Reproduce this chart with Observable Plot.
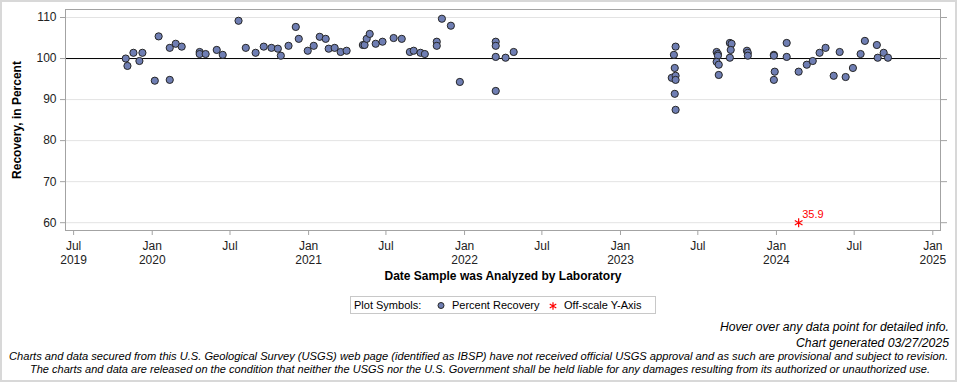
<!DOCTYPE html>
<html>
<head>
<meta charset="utf-8">
<script src="https://cdn.jsdelivr.net/npm/d3@7"></script>
<script src="https://cdn.jsdelivr.net/npm/@observablehq/plot@0.6"></script>
<style>
html, body { margin: 0; padding: 0; background: #fff; }
body { width: 960px; height: 384px; position: relative; overflow: hidden; font-family: Arial, "Liberation Sans", sans-serif; }
#border { position: absolute; left: 0; top: 0; width: 957px; height: 382px; box-sizing: border-box; border: 2px solid #d8d8d8; pointer-events: none; }
#chart { position: absolute; left: 0; top: 0; }
#legend { position: absolute; left: 350px; top: 296px; }
#footer { position: absolute; left: 0; top: 310px; }
</style>
</head>
<body>
<div id="chart"></div>
<div id="legend"></div>
<div id="footer"></div>
<div id="border"></div>
<script>
// ---- Data ----
const dates = [
  "2019-10-31","2019-11-04","2019-11-18","2019-12-02","2019-12-09",
  "2020-01-07","2020-01-16","2020-02-11","2020-02-11","2020-02-25",
  "2020-03-10","2020-04-21","2020-04-21","2020-05-05","2020-05-31",
  "2020-06-14","2020-07-21","2020-08-07","2020-08-30","2020-09-18",
  "2020-10-06","2020-10-21","2020-10-28","2020-11-15","2020-12-02",
  "2020-12-09","2020-12-30","2021-01-13","2021-01-27","2021-02-10",
  "2021-02-17","2021-03-03","2021-03-17","2021-03-31","2021-05-08",
  "2021-05-12","2021-05-17","2021-05-24","2021-06-07","2021-06-23",
  "2021-07-19","2021-08-07","2021-08-26","2021-09-04","2021-09-20",
  "2021-09-30","2021-10-28","2021-10-28","2021-11-09","2021-11-30",
  "2021-12-21","2022-03-15","2022-03-15","2022-03-15","2022-03-15",
  "2022-04-07","2022-04-26","2023-05-10","2023-05-06","2023-05-08",
  "2023-05-01","2023-05-10","2023-05-10","2023-05-08","2023-05-10",
  "2023-08-14","2023-08-17","2023-08-17","2023-08-14","2023-08-19",
  "2023-08-19","2023-09-14","2023-09-18","2023-09-16","2023-09-14",
  "2023-10-24","2023-10-26","2023-10-26","2023-12-26","2023-12-26",
  "2023-12-28","2023-12-26","2024-01-25","2024-01-25","2024-02-22",
  "2024-03-12","2024-03-26","2024-04-11","2024-04-25","2024-05-14",
  "2024-05-28","2024-06-11","2024-06-28","2024-07-16","2024-07-26",
  "2024-08-23","2024-08-25","2024-09-08","2024-09-18"
];
const recovery = [
  100.0, 98.2, 101.4, 99.4, 101.4,
  94.6, 105.4, 94.8, 102.6, 103.6,
  102.9, 101.6, 101.1, 101.1, 102.1,
  100.9, 109.2, 102.6, 101.4, 102.9,
  102.6, 102.4, 100.7, 103.1, 107.7,
  104.8, 101.9, 103.1, 105.3, 104.8,
  102.4, 102.6, 101.6, 101.9, 103.3,
  103.3, 104.8, 106.0, 103.6, 104.1,
  105.0, 104.8, 101.6, 101.9, 101.4,
  101.1, 104.1, 103.1, 109.7, 108.0,
  94.3, 104.1, 103.1, 100.4, 92.1,
  100.2, 101.6, 102.9, 100.9, 97.7,
  95.3, 95.8, 94.8, 91.4, 87.5,
  101.6, 101.1, 100.7, 99.2, 98.5,
  96.0, 103.8, 103.6, 102.1, 100.2,
  101.9, 101.4, 100.7, 100.9, 100.7,
  96.8, 94.8, 103.8, 100.4, 96.8,
  98.5, 99.4, 101.4, 102.6, 95.8,
  101.6, 95.5, 97.7, 101.1, 104.3,
  103.3, 100.2, 101.4, 100.2
];
const offscaleDates = ["2024-02-22"];
const offscaleValues = [35.9];
const offscalePlotAt = 60;

const yTicks = [60, 70, 80, 90, 100, 110];
const xTickDates = ["2019-07-01","2020-01-01","2020-07-01","2021-01-01","2021-07-01","2022-01-01",
                    "2022-07-01","2023-01-01","2023-07-01","2024-01-01","2024-07-01","2025-01-01"];
const xTickLabels = ["Jul\n2019","Jan\n2020","Jul","Jan\n2021","Jul","Jan\n2022",
                     "Jul","Jan\n2023","Jul","Jan\n2024","Jul","Jan\n2025"];

const yLabel = "Recovery, in Percent";
const xLabel = "Date Sample was Analyzed by Laboratory";
const legendTitle = "Plot Symbols:";
const legendItems = ["Percent Recovery", "Off-scale Y-Axis"];
const footerLines = [
  "Hover over any data point for detailed info.",
  "Chart generated 03/27/2025",
  "Charts and data secured from this U.S. Geological Survey (USGS) web page (identified as IBSP) have not received official USGS approval and as such are provisional and subject to revision.",
  "The charts and data are released on the condition that neither the USGS nor the U.S. Government shall be held liable for any damages resulting from its authorized or unauthorized use."
];

// ---- Build ----
const points = dates.map((d, i) => ({date: new Date(d), value: recovery[i]}));
const offscale = offscaleDates.map((d, i) => ({date: new Date(d), y: offscalePlotAt, label: String(offscaleValues[i])}));
const xTicks = xTickDates.map(d => new Date(d));
const labelMap = new Map(xTicks.map((d, i) => [+d, xTickLabels[i]]));

const axisGray = "#a3a3a3";
const textCol = "#222";
const font = "Arial, 'Liberation Sans', sans-serif";

const chart = Plot.plot({
  width: 960,
  height: 290,
  marginLeft: 65,
  marginRight: 20,
  marginTop: 9,
  marginBottom: 60,
  style: {fontFamily: font, fontSize: "12px", background: "transparent", color: textCol},
  x: {type: "utc", domain: [new Date("2019-06-12"), new Date("2025-01-19")]},
  y: {domain: [58.1, 111.95]},
  marks: [
    Plot.gridY(yTicks, {stroke: "#e3e3e3", strokeOpacity: 1}),
    Plot.ruleY([100], {stroke: "#000", strokeWidth: 1}),
    Plot.frame({stroke: axisGray}),
    Plot.axisY(yTicks, {anchor: "left", tickSize: 5, tickPadding: 4, stroke: axisGray, fill: textCol, label: null, fontSize: 12}),
    Plot.axisY(yTicks, {anchor: "right", tickSize: 6, tickFormat: () => "", stroke: axisGray, label: null}),
    Plot.axisX(xTicks, {anchor: "bottom", tickSize: 5, tickPadding: 4, stroke: axisGray, fill: textCol, label: null,
      tickFormat: d => labelMap.get(+d), lineHeight: 1.2, fontSize: 12}),
    Plot.dot(points, {x: "date", y: "value", r: 3.6, fill: "#6F7EB3", stroke: "#262626", strokeWidth: 1}),
    Plot.dot(offscale, {x: "date", y: "y", symbol: "asterisk", r: 4.2, stroke: "#ff0000", strokeWidth: 1.2}),
    Plot.text(offscale, {x: "date", y: "y", text: "label", dx: 3.5, dy: -8, textAnchor: "start", fill: "#ff0000", fontSize: 11}),
    Plot.text([yLabel], {text: d => d, frameAnchor: "left", dx: -48.3, rotate: -90, textAnchor: "middle", fontWeight: "bold", fontSize: 12, fill: "#000"}),
    Plot.text([xLabel], {text: d => d, frameAnchor: "bottom", dy: 49, textAnchor: "middle", fontWeight: "bold", fontSize: 12, fill: "#000"})
  ]
});
document.getElementById("chart").appendChild(chart);

// ---- Legend ----
const lw = 306, lh = 18;
const lg = d3.select("#legend").append("svg").attr("width", lw).attr("height", lh)
  .style("font-family", font).style("font-size", "11px");
lg.append("rect").attr("x", 0.5).attr("y", 0.5).attr("width", lw - 1).attr("height", lh - 1)
  .attr("fill", "#fff").attr("stroke", "#c8c8c8");
lg.append("text").attr("x", 4).attr("y", 9).attr("dy", "0.35em").attr("fill", "#000").text(legendTitle);
lg.append("circle").attr("cx", 91).attr("cy", 9.5).attr("r", 3).attr("fill", "#6F7EB3").attr("stroke", "#262626");
lg.append("text").attr("x", 102).attr("y", 9).attr("dy", "0.35em").attr("fill", "#000").text(legendItems[0]);
lg.append("path").attr("d", d3.symbol(d3.symbolAsterisk, 40)()).attr("transform", "translate(203,10)")
  .attr("stroke", "#ff0000").attr("stroke-width", 1.2).attr("fill", "none");
lg.append("text").attr("x", 214).attr("y", 9).attr("dy", "0.35em").attr("fill", "#000").text(legendItems[1]);

// ---- Footer ----
const ft = d3.select("#footer").append("svg").attr("width", 960).attr("height", 74)
  .style("font-family", font).style("font-style", "italic");
const footSpec = [
  {x: 949, w: 229, y: 17, anchor: "end", size: 12},
  {x: 949, w: 153, y: 33, anchor: "end", size: 12},
  {x: 478.5, w: 939, y: 46, anchor: "middle", size: 11},
  {x: 480, w: 900, y: 59, anchor: "middle", size: 11}
];
footerLines.forEach((t, i) => {
  const s = footSpec[i];
  ft.append("text").attr("x", s.x).attr("y", s.y).attr("dy", "0.35em").attr("fill", "#000")
    .attr("text-anchor", s.anchor).style("font-size", s.size + "px")
    .attr("textLength", s.w).attr("lengthAdjust", "spacingAndGlyphs").text(t);
});
</script>
</body>
</html>
